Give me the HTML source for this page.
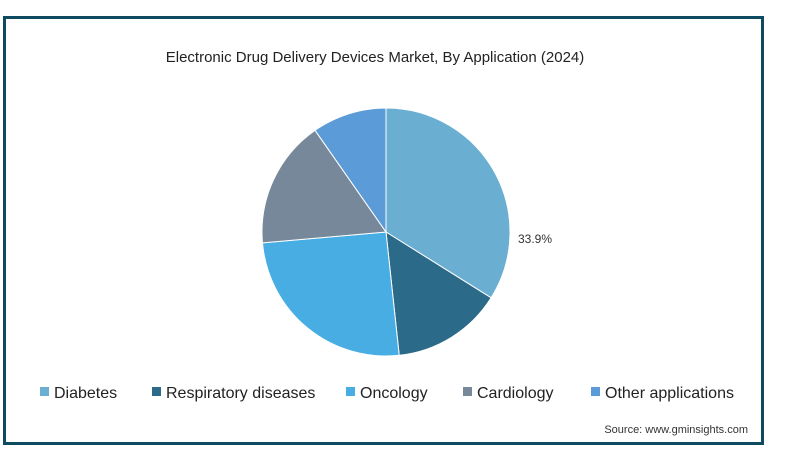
<!DOCTYPE html>
<html><head><meta charset="utf-8"><style>
html,body{margin:0;padding:0;background:#fff;}
body{width:789px;height:451px;position:relative;overflow:hidden;font-family:"Liberation Sans",sans-serif;}
#frame{position:absolute;left:3px;top:16px;width:755px;height:423px;border:3px solid #0f4b60;}
</style></head><body>
<div id="frame"></div>
<svg width="789" height="451" style="position:absolute;left:0;top:0">
<text x="375" y="62" text-anchor="middle" font-size="15" fill="#222">Electronic Drug Delivery Devices Market, By Application (2024)</text>
<g id="pie"></g>
<text x="518" y="243" font-size="12" fill="#333">33.9%</text>
<g id="legend"></g>
<text x="748" y="433" text-anchor="end" font-size="11" fill="#333">Source: www.gminsights.com</text>
</svg>
<script>
const categories=["Diabetes","Respiratory diseases","Oncology","Cardiology","Other applications"];
const values=[33.9,14.4,25.3,16.7,9.7];
const colors=["#6aaed2","#2b6a88","#47ade2","#76889a","#5b9bd8"];
const legendX=[40,152,346,463,591];
const cx=386,cy=232,r=124;
const ns="http://www.w3.org/2000/svg";
const pie=document.getElementById('pie');
const total=values.reduce((a,b)=>a+b,0);
function pt(a){return [cx+r*Math.sin(a),cy-r*Math.cos(a)];}
let a0=0;
values.forEach((v,i)=>{
  const a1=a0+v/total*2*Math.PI;
  const [x0,y0]=pt(a0),[x1,y1]=pt(a1);
  const p=document.createElementNS(ns,'path');
  p.setAttribute('d',`M${cx},${cy}L${x0},${y0}A${r},${r} 0 ${a1-a0>Math.PI?1:0} 1 ${x1},${y1}Z`);
  p.setAttribute('fill',colors[i]);p.setAttribute('stroke','#fff');p.setAttribute('stroke-width','1');
  
  
  pie.appendChild(p);
  a0=a1;
});
const lg=document.getElementById('legend');
categories.forEach((c,i)=>{
  const g=document.createElementNS(ns,'g');
  
  
  const s=document.createElementNS(ns,'rect');
  s.setAttribute('x',legendX[i]);s.setAttribute('y',387);s.setAttribute('width',9);s.setAttribute('height',9);s.setAttribute('fill',colors[i]);
  const t=document.createElementNS(ns,'text');
  t.setAttribute('x',legendX[i]+14);t.setAttribute('y',398);t.setAttribute('font-size','16');t.setAttribute('fill','#222');
  t.textContent=c;
  g.appendChild(s);g.appendChild(t);lg.appendChild(g);
});
</script>
</body></html>
